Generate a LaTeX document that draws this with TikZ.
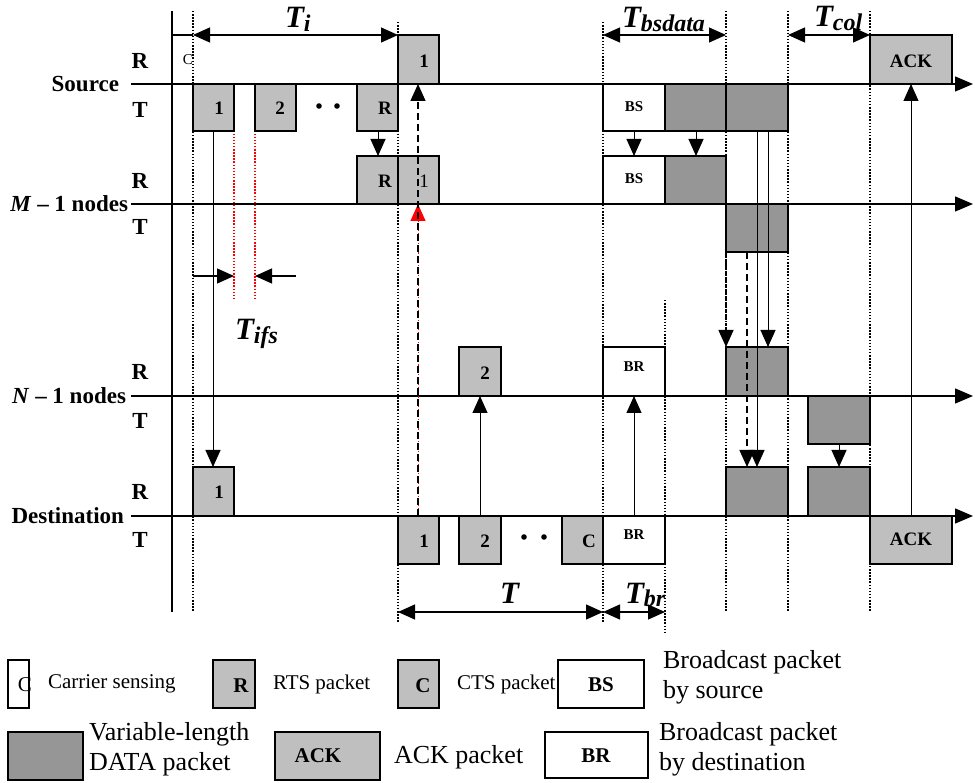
\documentclass[tikz,border=0pt]{standalone}
\usepackage{fontspec}
\setmainfont{Liberation Serif}
\usetikzlibrary{arrows.meta}
\newcommand{\lblf}{\fontsize{23}{25}\selectfont\bfseries}
\newcommand{\pkf}{\fontsize{19}{21}\selectfont\bfseries}
\newcommand{\smf}{\fontsize{15}{17}\selectfont\bfseries}
\newcommand{\legsf}{\fontsize{21}{23}\selectfont}
\newcommand{\legbf}{\fontsize{26}{30}\selectfont}
\newcommand{\tlab}[2]{\fontsize{31}{31}\selectfont\bfseries\itshape #1\raisebox{-0.1em}{\fontsize{24}{24}\selectfont #2}}
\begin{document}
\begin{tikzpicture}[x=1pt,y=-1pt,
  every node/.style={inner sep=0pt, outer sep=0pt},
  bx/.style 2 args={minimum width=#1pt, minimum height=#2pt, anchor=north west, draw, line width=1.3pt},
  lt/.style={fill=black!25},
  dk/.style={fill=black!41},
  wt/.style={fill=white},
  tip/.style={-{Triangle[length=17pt,width=15pt]}},
  axis/.style={line width=1.3pt, -{Triangle[length=18pt,width=15pt]}},
  arr/.style={line width=1pt, tip},
  dim/.style={line width=1.2pt, {Triangle[length=17pt,width=15pt]}-{Triangle[length=17pt,width=15pt]}},
  rarr/.style={line width=1.2pt, tip},
  dotv/.style={line width=1.5pt, dash pattern=on 1.5pt off 1.6pt},
  reddot/.style={red, line width=1.5pt, dash pattern=on 1.5pt off 1.6pt},
  dashd/.style={line width=1.4pt, dash pattern=on 7pt off 4pt, tip},
  dashdot/.style={line width=1.4pt, dash pattern=on 6pt off 2.5pt on 1.5pt off 2.5pt, tip},
  reddash/.style={red, line width=0.9pt, dash pattern=on 1.2pt off 2pt, tip}
]
\useasboundingbox[fill=white] (0,0) rectangle (975,783);

% ---------- vertical guides ----------
\draw[line width=1.2pt] (172,11) coordinate (v0t) -- (172,612) coordinate (v0b);
\draw[dotv] (193,11) -- (193,612);
\draw[dotv] (398,22) -- (398,622);
\draw[dotv] (603,22) -- (603,622);
\draw[dotv] (665,300) -- (665,632);
\draw[dotv] (726,11) -- (726,612);
\draw[dotv] (788,11) -- (788,612);
\draw[dotv] (870,11) -- (870,612);
\draw[reddot] (234,84) -- (234,300);
\draw[reddot] (255,84) -- (255,300);

% ---------- time axes ----------
\coordinate (srcL) at (131,84);  \coordinate (srcR) at (973,84);
\coordinate (mL) at (131,204);   \coordinate (mR) at (973,204);
\coordinate (nL) at (131,396);   \coordinate (nR) at (973,396);
\coordinate (dL) at (131,516);   \coordinate (dR) at (973,516);
\draw[axis] (srcL) -- (srcR);
\draw[axis] (mL) -- (mR);
\draw[axis] (nL) -- (nR);
\draw[axis] (dL) -- (dR);

% ---------- row labels ----------
\node[font=\lblf] (sRl) at (140,61) {R};
\node[font=\lblf, anchor=east] (srcl) at (119,84) {Source};
\node[font=\lblf] (sTl) at (140,110) {T};
\node[font=\lblf] (mRl) at (140,181) {R};
\node[font=\lblf, anchor=east] (ml) at (128,204) {\textit{M} – 1 nodes};
\node[font=\lblf] (mTl) at (140,227) {T};
\node[font=\lblf] (nRl) at (140,372) {R};
\node[font=\lblf, anchor=east] (nl) at (126,396) {\textit{N} – 1 nodes};
\node[font=\lblf] (nTl) at (140,421) {T};
\node[font=\lblf] (dRl) at (140,492) {R};
\node[font=\lblf, anchor=east] (dl) at (124,516) {Destination};
\node[font=\lblf] (dTl) at (140,540) {T};

% ---------- source ----------
\node[font=\fontsize{15}{15}\selectfont] (sC) at (188,60) {C};
\node[bx={41}{47}, lt] (sT1) at (193,84) {};
\node[font=\pkf] (sT1t) at (219,108) {1};
\node[bx={41}{47}, lt] (sT2) at (255,84) {};
\node[font=\pkf] (sT2t) at (280,108) {2};
\fill (319,106) circle (2.8pt) (337,106) circle (2.8pt);
\node[bx={41}{47}, lt] (sTR) at (357,84) {};
\node[font=\pkf] (sTRt) at (385,108) {R};
\node[bx={41}{49}, lt] (sR1) at (398,35) {};
\node[font=\pkf] (sR1t) at (424,61) {1};
\node[bx={62}{47}, wt] (sTBS) at (603,84) {};
\node[font=\smf] (sTBSt) at (634,107) {BS};
\node[bx={61}{47}, dk] (sTD1) at (665,84) {};
\node[bx={62}{47}, dk] (sTD2) at (726,84) {};
\node[bx={82}{49}, lt] (sRACK) at (870,35) {};
\node[font=\pkf] (sRACKt) at (911,61) {ACK};

% ---------- M-1 ----------
\node[bx={41}{48}, lt] (mRR) at (357,156) {};
\node[font=\pkf] (mRRt) at (385,181) {R};
\node[bx={41}{48}, lt] (mR1) at (398,156) {};
\node[font=\fontsize{19}{21}\selectfont] (mR1t) at (424,181) {1};
\node[bx={62}{48}, wt] (mRBS) at (603,156) {};
\node[font=\smf] (mRBSt) at (634,179) {BS};
\node[bx={61}{48}, dk] (mRD) at (665,156) {};
\node[bx={62}{48}, dk] (mTD) at (726,204) {};

% ---------- N-1 ----------
\node[bx={42}{49}, lt] (nR2) at (459,347) {};
\node[font=\pkf] (nR2t) at (485,373) {2};
\node[bx={62}{49}, wt] (nRBR) at (603,347) {};
\node[font=\smf] (nRBRt) at (634,367) {BR};
\node[bx={62}{49}, dk] (nRD) at (726,347) {};
\node[bx={62}{48}, dk] (nTD) at (808,396) {};

% ---------- destination ----------
\node[bx={41}{49}, lt] (dR1) at (193,467) {};
\node[font=\pkf] (dR1t) at (219,492) {1};
\node[bx={62}{49}, dk] (dRD1) at (726,467) {};
\node[bx={62}{49}, dk] (dRD2) at (808,467) {};
\node[bx={41}{48}, lt] (dT1) at (398,516) {};
\node[font=\pkf] (dT1t) at (424,541) {1};
\node[bx={42}{48}, lt] (dT2) at (459,516) {};
\node[font=\pkf] (dT2t) at (485,541) {2};
\fill (524,537) circle (2.8pt) (544,537) circle (2.8pt);
\node[bx={41}{48}, lt] (dTC) at (562,516) {};
\node[font=\pkf] (dTCt) at (589,541) {C};
\node[bx={62}{48}, wt] (dTBR) at (603,516) {};
\node[font=\smf] (dTBRt) at (634,535) {BR};
\node[bx={82}{48}, lt] (dTACK) at (870,516) {};
\node[font=\pkf] (dTACKt) at (911,539) {ACK};

% ---------- connectors ----------
\draw[arr] ([xshift=20pt]sT1.south west) -- ([xshift=20pt]dR1.north west);
\draw[arr] ([xshift=21pt]sTR.south west) -- ([xshift=21pt]mRR.north west);
\draw[arr] ([xshift=31pt]sTBS.south west) -- ([xshift=31pt]mRBS.north west);
\draw[arr] ([xshift=31pt]sTD1.south west) -- ([xshift=31pt]mRD.north west);
\draw[arr] ([xshift=31pt]sTD2.south west) -- ([xshift=31pt]dRD1.north west);
\draw[arr] ([xshift=42pt]sTD2.south west) -- ([xshift=42pt]nRD.north west);
\draw[dashdot] (mTD.south west) -- (nRD.north west);
\draw[dashd] ([xshift=21pt]mTD.south west) -- ([xshift=21pt]dRD1.north west);
\draw[arr] ([xshift=31pt]nTD.south west) -- ([xshift=31pt]dRD2.north west);
\draw[arr] ([xshift=21pt]dT2.north west) -- ([xshift=21pt]nR2.south west);
\draw[arr] ([xshift=31pt]dTBR.north west) -- ([xshift=31pt]nRBR.south west);
\draw[arr] ([xshift=41pt]dTACK.north west) -- ([xshift=41pt]sRACK.south west);
\draw[reddash] ([xshift=20pt]dT1.north west) -- ([xshift=20pt]mR1.south west);
\draw[dashd] ([xshift=20pt]dT1.north west) -- ([xshift=20pt]sR1.south west);

% ---------- durations ----------
\coordinate (ti0) at (172,35); \coordinate (ti1) at (193,35); \coordinate (ti2) at (398,35);
\draw[line width=1.2pt] (ti0) -- (ti1);
\draw[dim] (ti1) -- (ti2);
\node[anchor=base west] (Ti) at (285,28) {\tlab{T}{i}};
\coordinate (tb1) at (603,35); \coordinate (tb2) at (726,35);
\draw[dim] (tb1) -- (tb2);
\node[anchor=base west] (Tbs) at (622,28) {\tlab{T}{bsdata}};
\coordinate (tc1) at (788,35); \coordinate (tc2) at (870,35);
\draw[dim] (tc1) -- (tc2);
\node[anchor=base west] (Tcol) at (814,27) {\tlab{T}{col}};
\coordinate (tf0) at (193,276); \coordinate (tf1) at (234,276);
\coordinate (tf2) at (255,276); \coordinate (tf3) at (296,276);
\draw[rarr] (tf0) -- (tf1);
\draw[rarr] (tf3) -- (tf2);
\node[anchor=base west] (Tifs) at (235,340) {\tlab{T}{ifs}};
\coordinate (tt1) at (398,612); \coordinate (tt2) at (603,612); \coordinate (tt3) at (665,612);
\draw[dim] (tt1) -- (tt2);
\node[anchor=base west] (Tt) at (500,603) {\tlab{T}{}};
\draw[dim] (tt2) -- (tt3);
\node[anchor=base west] (Tbr) at (625,603) {\tlab{T}{br}};

% ---------- legend ----------
\node[bx={21}{48}, wt] (lgC) at (8,660) {};
\node[font=\legsf] (lgCt) at (25,685) {C};
\node[font=\legsf, anchor=west] (lgCl) at (48,684) {Carrier sensing};
\node[bx={42}{48}, lt] (lgR) at (213,660) {};
\node[font=\fontsize{21}{21}\selectfont\bfseries] (lgRt) at (241,686) {R};
\node[font=\legsf, anchor=west] (lgRl) at (273,684) {RTS packet};
\node[bx={41}{48}, lt] (lgCTS) at (398,660) {};
\node[font=\fontsize{21}{21}\selectfont\bfseries] (lgCTSt) at (423,686) {C};
\node[font=\legsf, anchor=west] (lgCTSl) at (457,684) {CTS packet};
\node[bx={86}{48}, wt] (lgBS) at (558,660) {};
\node[font=\fontsize{21}{21}\selectfont\bfseries] (lgBSt) at (601,685) {BS};
\node[font=\legbf, anchor=west, align=left] (lgBSl) at (663,677) {Broadcast packet\\by source};
\node[bx={75}{48}, dk] (lgD) at (8,732) {};
\node[font=\legbf, anchor=west, align=left] (lgDl) at (89,749) {Variable-length\\DATA packet};
\node[bx={105}{48}, lt] (lgA) at (275,732) {};
\node[font=\fontsize{21}{21}\selectfont\bfseries] (lgAt) at (318,756) {ACK};
\node[font=\legbf, anchor=west] (lgAl) at (394,757) {ACK packet};
\node[bx={103}{46}, wt] (lgBR) at (545,732) {};
\node[font=\fontsize{21}{21}\selectfont\bfseries] (lgBRt) at (596,756) {BR};
\node[font=\legbf, anchor=west, align=left] (lgBRl) at (659,749) {Broadcast packet\\by destination};
\end{tikzpicture}
\end{document}
